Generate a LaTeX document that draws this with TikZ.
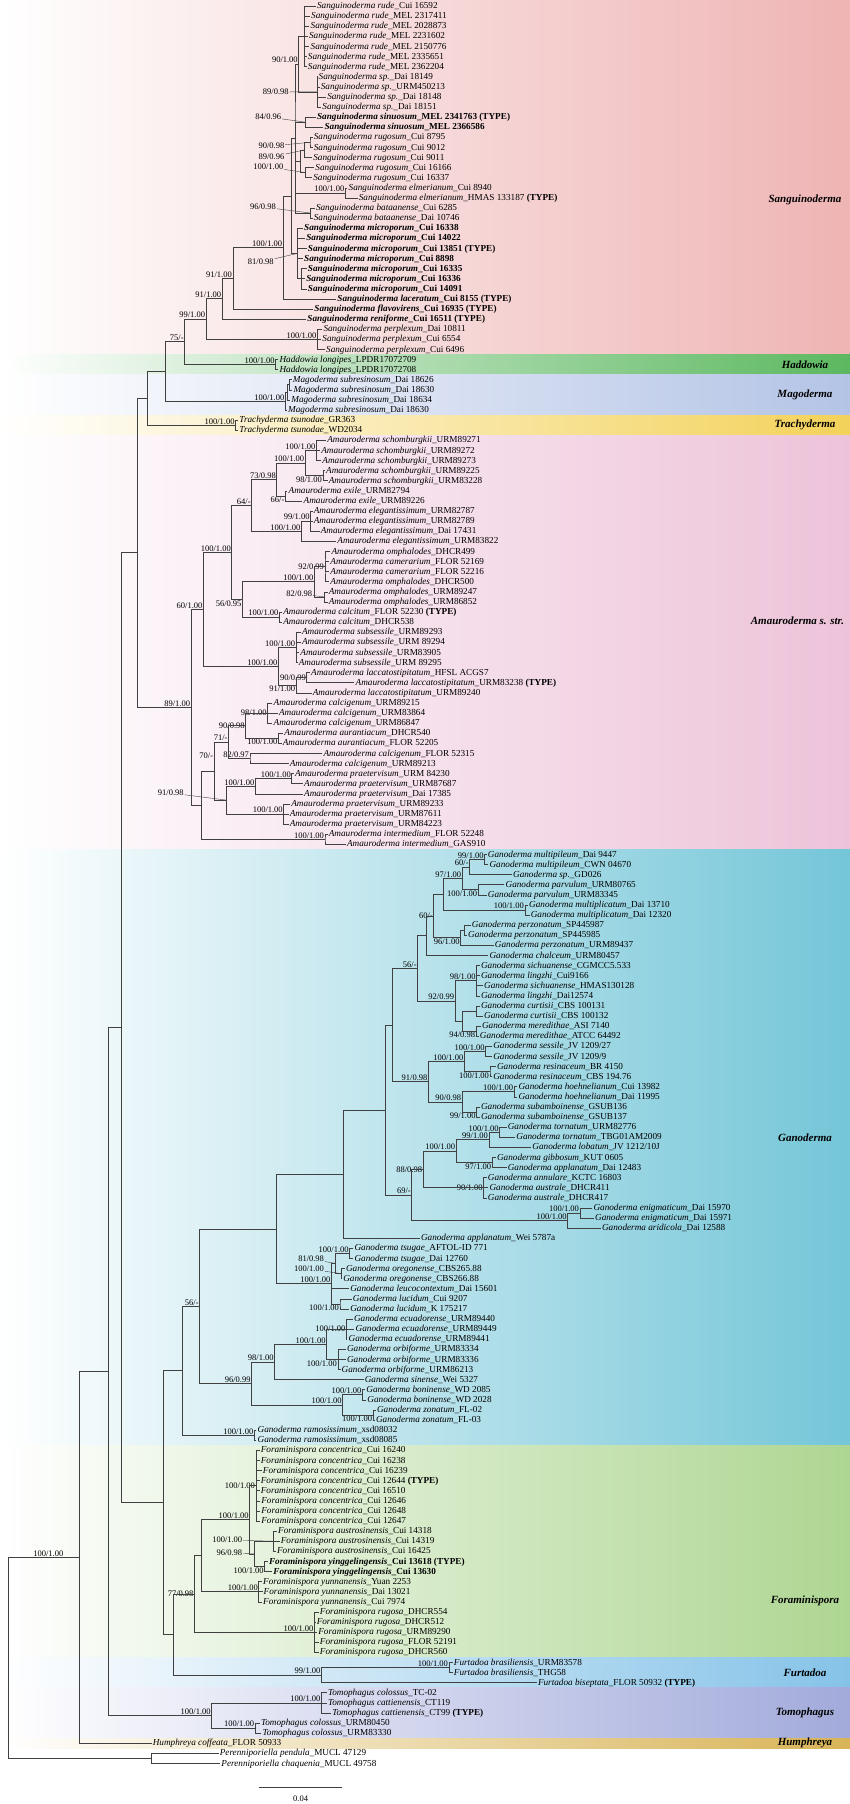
\documentclass[tikz,border=0pt]{standalone}
\usepackage{fontspec}
\setmainfont{Liberation Serif}
\usepackage{tikz}
\usetikzlibrary{calc}
\definecolor{SangRed}{HTML}{EFB4B4}
\definecolor{HaddGreen}{HTML}{5CB860}
\definecolor{MagoBlue}{HTML}{B4C4E6}
\definecolor{TrachYellow}{HTML}{F3D25A}
\definecolor{AmauPink}{HTML}{EDC3D9}
\definecolor{GanoCyan}{HTML}{74C6D8}
\definecolor{ForaGreen}{HTML}{AED692}
\definecolor{FurtBlue}{HTML}{86C3E8}
\definecolor{TomoBlue}{HTML}{A2AADB}
\definecolor{HumpGold}{HTML}{D8B457}

\tikzset{
  branch/.style={draw=black!75,line width=0.6pt},
  lead/.style={draw=black!75,line width=0.4pt},
  taxon/.style={anchor=west,inner sep=1pt,font=\fontsize{9.2}{10}\selectfont,text height=1.5ex,text depth=0.35ex},
  supp/.style={inner sep=0.8pt,font=\fontsize{8.5}{9}\selectfont},
  cladename/.style={font=\fontsize{11}{12}\selectfont\bfseries\itshape}
}

\newcommand{\tx}[2]{\textit{#1}\_#2}
\newcommand{\typ}{\textbf{(TYPE)}}
\newcommand{\taxon}[3]{\node[taxon] (L#1) at (#2,{6+10.1*(#1-1)}) {#3};}
% internal node: [label anchor]{name}{x}{first child}{last child}{support}
\newcommand{\clade}[6][south east]{%
  \coordinate (tmp) at ($(#4)!0.5!(#5)$);
  \path let \p1=(tmp) in (#3,\y1) coordinate (#2);
  \draw[branch] (#4) -| (#2) |- (#5);
  \node[supp,anchor=#1] at (#2) {#6};}
\newcommand{\twig}[2]{\draw[branch] (#1) |- (#2);}

\begin{document}
\begin{tikzpicture}[x=1.0714pt,y=-1pt]
\useasboundingbox (6.667,0) rectangle (800,1804);

% clade bands
\shade[left color=white,right color=SangRed] (6.667,0) rectangle (800,354.5);
\shade[left color=white,right color=HaddGreen] (6.667,354.5) rectangle (800,374.7);
\shade[left color=white,right color=MagoBlue] (6.667,374.7) rectangle (800,415);
\shade[left color=white,right color=TrachYellow] (6.667,415) rectangle (800,435.2);
\shade[left color=white,right color=AmauPink] (6.667,435.2) rectangle (800,849.4);
\shade[left color=white,right color=GanoCyan] (6.667,849.4) rectangle (800,1445.3);
\shade[left color=white,right color=ForaGreen] (6.667,1445.3) rectangle (800,1657.4);
\shade[left color=white,right color=FurtBlue] (6.667,1657.4) rectangle (800,1687.7);
\shade[left color=white,right color=TomoBlue] (6.667,1687.7) rectangle (800,1738.2);
\shade[left color=white,right color=HumpGold] (6.667,1738.2) rectangle (800,1748.3);

\node[cladename] (nSang) at (758,200) {Sanguinoderma};
\node[cladename] (nHadd) at (758,364.6) {Haddowia};
\node[cladename] (nMago) at (758,394.9) {Magoderma};
\node[cladename] (nTrac) at (758,425.1) {Trachyderma};
\node[cladename] (nAmau) at (751,621) {Amauroderma s. str.};
\node[cladename] (nGano) at (758,1138) {Ganoderma};
\node[cladename] (nFora) at (758,1601) {Foraminispora};
\node[cladename] (nFurt) at (758,1672.5) {Furtadoa};
\node[cladename] (nTomo) at (758,1713) {Tomophagus};
\node[cladename] (nHump) at (758,1743.2) {Humphreya};

% taxa
\taxon{1}{301.5}{\tx{Sanguinoderma rude}{Cui 16592}}
\taxon{2}{296}{\tx{Sanguinoderma rude}{MEL 2317411}}
\taxon{3}{295.5}{\tx{Sanguinoderma rude}{MEL 2028873}}
\taxon{4}{294}{\tx{Sanguinoderma rude}{MEL 2231602}}
\taxon{5}{295.5}{\tx{Sanguinoderma rude}{MEL 2150776}}
\taxon{6}{293}{\tx{Sanguinoderma rude}{MEL 2335651}}
\taxon{7}{293}{\tx{Sanguinoderma rude}{MEL 2362204}}
\taxon{8}{303}{\tx{Sanguinoderma sp.}{Dai 18149}}
\taxon{9}{305}{\tx{Sanguinoderma sp.}{URM450213}}
\taxon{10}{311}{\tx{Sanguinoderma sp.}{Dai 18148}}
\taxon{11}{306.5}{\tx{Sanguinoderma sp.}{Dai 18151}}
\taxon{12}{301.5}{\bfseries\tx{Sanguinoderma sinuosum}{MEL 2341763 (TYPE)}}
\taxon{13}{308.5}{\bfseries\tx{Sanguinoderma sinuosum}{MEL 2366586}}
\taxon{14}{298.5}{\tx{Sanguinoderma rugosum}{Cui 8795}}
\taxon{15}{298.5}{\tx{Sanguinoderma rugosum}{Cui 9012}}
\taxon{16}{298}{\tx{Sanguinoderma rugosum}{Cui 9011}}
\taxon{17}{300}{\tx{Sanguinoderma rugosum}{Cui 16166}}
\taxon{18}{298}{\tx{Sanguinoderma rugosum}{Cui 16337}}
\taxon{19}{331}{\tx{Sanguinoderma elmerianum}{Cui 8940}}
\taxon{20}{340.5}{\tx{Sanguinoderma elmerianum}{HMAS 133187 \typ}}
\taxon{21}{300.5}{\tx{Sanguinoderma bataanense}{Cui 6285}}
\taxon{22}{298.5}{\tx{Sanguinoderma bataanense}{Dai 10746}}
\taxon{23}{289.5}{\bfseries\tx{Sanguinoderma microporum}{Cui 16338}}
\taxon{24}{291.5}{\bfseries\tx{Sanguinoderma microporum}{Cui 14022}}
\taxon{25}{293}{\bfseries\tx{Sanguinoderma microporum}{Cui 13851 (TYPE)}}
\taxon{26}{289.5}{\bfseries\tx{Sanguinoderma microporum}{Cui 8898}}
\taxon{27}{293}{\bfseries\tx{Sanguinoderma microporum}{Cui 16335}}
\taxon{28}{291.5}{\bfseries\tx{Sanguinoderma microporum}{Cui 16336}}
\taxon{29}{293}{\bfseries\tx{Sanguinoderma microporum}{Cui 14091}}
\taxon{30}{320.5}{\bfseries\tx{Sanguinoderma laceratum}{Cui 8155 (TYPE)}}
\taxon{31}{299}{\bfseries\tx{Sanguinoderma flavovirens}{Cui 16935 (TYPE)}}
\taxon{32}{292.5}{\bfseries\tx{Sanguinoderma reniforme}{Cui 16511 (TYPE)}}
\taxon{33}{307.5}{\tx{Sanguinoderma perplexum}{Dai 10811}}
\taxon{34}{306.5}{\tx{Sanguinoderma perplexum}{Cui 6554}}
\taxon{35}{310}{\tx{Sanguinoderma perplexum}{Cui 6496}}
\taxon{36}{266.5}{\tx{Haddowia longipes}{LPDR17072709}}
\taxon{37}{266.5}{\tx{Haddowia longipes}{LPDR17072708}}
\taxon{38}{279}{\tx{Magoderma subresinosum}{Dai 18626}}
\taxon{39}{279.5}{\tx{Magoderma subresinosum}{Dai 18630}}
\taxon{40}{277.5}{\tx{Magoderma subresinosum}{Dai 18634}}
\taxon{41}{274.5}{\tx{Magoderma subresinosum}{Dai 18630}}
\taxon{42}{229}{\tx{Trachyderma tsunodae}{GR363}}
\taxon{43}{229}{\tx{Trachyderma tsunodae}{WD2034}}
\taxon{44}{311}{\tx{Amauroderma schomburgkii}{URM89271}}
\taxon{45}{305.5}{\tx{Amauroderma schomburgkii}{URM89272}}
\taxon{46}{306.5}{\tx{Amauroderma schomburgkii}{URM89273}}
\taxon{47}{310}{\tx{Amauroderma schomburgkii}{URM89225}}
\taxon{48}{312.5}{\tx{Amauroderma schomburgkii}{URM83228}}
\taxon{49}{275}{\tx{Amauroderma exile}{URM82794}}
\taxon{50}{289}{\tx{Amauroderma exile}{URM89226}}
\taxon{51}{298.5}{\tx{Amauroderma elegantissimum}{URM82787}}
\taxon{52}{298.5}{\tx{Amauroderma elegantissimum}{URM82789}}
\taxon{53}{305}{\tx{Amauroderma elegantissimum}{Dai 17431}}
\taxon{54}{320.5}{\tx{Amauroderma elegantissimum}{URM83822}}
\taxon{55}{315}{\tx{Amauroderma omphalodes}{DHCR499}}
\taxon{56}{314}{\tx{Amauroderma camerarium}{FLOR 52169}}
\taxon{57}{314}{\tx{Amauroderma camerarium}{FLOR 52216}}
\taxon{58}{314}{\tx{Amauroderma omphalodes}{DHCR500}}
\taxon{59}{312.5}{\tx{Amauroderma omphalodes}{URM89247}}
\taxon{60}{312.5}{\tx{Amauroderma omphalodes}{URM86852}}
\taxon{61}{270}{\tx{Amauroderma calcitum}{FLOR 52230 \typ}}
\taxon{62}{270}{\tx{Amauroderma calcitum}{DHCR538}}
\taxon{63}{287.5}{\tx{Amauroderma subsessile}{URM89293}}
\taxon{64}{287.5}{\tx{Amauroderma subsessile}{URM 89294}}
\taxon{65}{286}{\tx{Amauroderma subsessile}{URM83905}}
\taxon{66}{284.5}{\tx{Amauroderma subsessile}{URM 89295}}
\taxon{67}{296}{\tx{Amauroderma laccatostipitatum}{HFSL ACGS7}}
\taxon{68}{337.5}{\tx{Amauroderma laccatostipitatum}{URM83238 \typ}}
\taxon{69}{297.5}{\tx{Amauroderma laccatostipitatum}{URM89240}}
\taxon{70}{261}{\tx{Amauroderma calcigenum}{URM89215}}
\taxon{71}{266}{\tx{Amauroderma calcigenum}{URM83864}}
\taxon{72}{261}{\tx{Amauroderma calcigenum}{URM86847}}
\taxon{73}{271}{\tx{Amauroderma aurantiacum}{DHCR540}}
\taxon{74}{269.5}{\tx{Amauroderma aurantiacum}{FLOR 52205}}
\taxon{75}{307.5}{\tx{Amauroderma calcigenum}{FLOR 52315}}
\taxon{76}{276}{\tx{Amauroderma calcigenum}{URM89213}}
\taxon{77}{281}{\tx{Amauroderma praetervisum}{URM 84230}}
\taxon{78}{289.5}{\tx{Amauroderma praetervisum}{URM87687}}
\taxon{79}{289.5}{\tx{Amauroderma praetervisum}{Dai 17385}}
\taxon{80}{277.5}{\tx{Amauroderma praetervisum}{URM89233}}
\taxon{81}{276}{\tx{Amauroderma praetervisum}{URM87611}}
\taxon{82}{276}{\tx{Amauroderma praetervisum}{URM84223}}
\taxon{83}{312.5}{\tx{Amauroderma intermedium}{FLOR 52248}}
\taxon{84}{329.5}{\tx{Amauroderma intermedium}{GAS910}}
\taxon{85}{461}{\tx{Ganoderma multipileum}{Dai 9447}}
\taxon{86}{462.5}{\tx{Ganoderma multipileum}{CWN 04670}}
\taxon{87}{484.5}{\tx{Ganoderma sp.}{GD026}}
\taxon{88}{477.5}{\tx{Ganoderma parvulum}{URM80765}}
\taxon{89}{461}{\tx{Ganoderma parvulum}{URM83345}}
\taxon{90}{499.5}{\tx{Ganoderma multiplicatum}{Dai 13710}}
\taxon{91}{501}{\tx{Ganoderma multiplicatum}{Dai 12320}}
\taxon{92}{446}{\tx{Ganoderma perzonatum}{SP445987}}
\taxon{93}{442.5}{\tx{Ganoderma perzonatum}{SP445985}}
\taxon{94}{467.5}{\tx{Ganoderma perzonatum}{URM89437}}
\taxon{95}{462.5}{\tx{Ganoderma chalceum}{URM80457}}
\taxon{96}{454.5}{\tx{Ganoderma sichuanense}{CGMCC5.533}}
\taxon{97}{454.5}{\tx{Ganoderma lingzhi}{Cui9166}}
\taxon{98}{457.5}{\tx{Ganoderma sichuanense}{HMAS130128}}
\taxon{99}{454.5}{\tx{Ganoderma lingzhi}{Dai12574}}
\taxon{100}{454.5}{\tx{Ganoderma curtisii}{CBS 100131}}
\taxon{101}{457.5}{\tx{Ganoderma curtisii}{CBS 100132}}
\taxon{102}{455.5}{\tx{Ganoderma meredithae}{ASI 7140}}
\taxon{103}{453.5}{\tx{Ganoderma meredithae}{ATCC 64492}}
\taxon{104}{466}{\tx{Ganoderma sessile}{JV 1209/27}}
\taxon{105}{466}{\tx{Ganoderma sessile}{JV 1209/9}}
\taxon{106}{469.5}{\tx{Ganoderma resinaceum}{BR 4150}}
\taxon{107}{466}{\tx{Ganoderma resinaceum}{CBS 194.76}}
\taxon{108}{489.5}{\tx{Ganoderma hoehnelianum}{Cui 13982}}
\taxon{109}{489.5}{\tx{Ganoderma hoehnelianum}{Dai 11995}}
\taxon{110}{454.5}{\tx{Ganoderma subamboinense}{GSUB136}}
\taxon{111}{454.5}{\tx{Ganoderma subamboinense}{GSUB137}}
\taxon{112}{479.5}{\tx{Ganoderma tornatum}{URM82776}}
\taxon{113}{487.5}{\tx{Ganoderma tornatum}{TBG01AM2009}}
\taxon{114}{502.5}{\tx{Ganoderma lobatum}{JV 1212/10J}}
\taxon{115}{469.5}{\tx{Ganoderma gibbosum}{KUT 0605}}
\taxon{116}{479.5}{\tx{Ganoderma applanatum}{Dai 12483}}
\taxon{117}{461}{\tx{Ganoderma annulare}{KCTC 16803}}
\taxon{118}{462.5}{\tx{Ganoderma australe}{DHCR411}}
\taxon{119}{461}{\tx{Ganoderma australe}{DHCR417}}
\taxon{120}{559.5}{\tx{Ganoderma enigmaticum}{Dai 15970}}
\taxon{121}{561}{\tx{Ganoderma enigmaticum}{Dai 15971}}
\taxon{122}{567.5}{\tx{Ganoderma aridicola}{Dai 12588}}
\taxon{123}{398.5}{\tx{Ganoderma applanatum}{Wei 5787a}}
\taxon{124}{336.5}{\tx{Ganoderma tsugae}{AFTOL-ID 771}}
\taxon{125}{336.5}{\tx{Ganoderma tsugae}{Dai 12760}}
\taxon{126}{328.5}{\tx{Ganoderma oregonense}{CBS265.88}}
\taxon{127}{326}{\tx{Ganoderma oregonense}{CBS266.88}}
\taxon{128}{332.5}{\tx{Ganoderma leucocontextum}{Dai 15601}}
\taxon{129}{335}{\tx{Ganoderma lucidum}{Cui 9207}}
\taxon{130}{332.5}{\tx{Ganoderma lucidum}{K 175217}}
\taxon{131}{336}{\tx{Ganoderma ecuadorense}{URM89440}}
\taxon{132}{337.5}{\tx{Ganoderma ecuadorense}{URM89449}}
\taxon{133}{331}{\tx{Ganoderma ecuadorense}{URM89441}}
\taxon{134}{329.5}{\tx{Ganoderma orbiforme}{URM83334}}
\taxon{135}{329.5}{\tx{Ganoderma orbiforme}{URM83336}}
\taxon{136}{324.5}{\tx{Ganoderma orbiforme}{URM86213}}
\taxon{137}{346}{\tx{Ganoderma sinense}{Wei 5327}}
\taxon{138}{347.5}{\tx{Ganoderma boninense}{WD 2085}}
\taxon{139}{348.5}{\tx{Ganoderma boninense}{WD 2028}}
\taxon{140}{357.5}{\tx{Ganoderma zonatum}{FL-02}}
\taxon{141}{356.5}{\tx{Ganoderma zonatum}{FL-03}}
\taxon{142}{246}{\tx{Ganoderma ramosissimum}{xsd08032}}
\taxon{143}{246}{\tx{Ganoderma ramosissimum}{xsd08085}}
\taxon{144}{249}{\tx{Foraminispora concentrica}{Cui 16240}}
\taxon{145}{249}{\tx{Foraminispora concentrica}{Cui 16238}}
\taxon{146}{251}{\tx{Foraminispora concentrica}{Cui 16239}}
\taxon{147}{249}{\tx{Foraminispora concentrica}{Cui 12644 \typ}}
\taxon{148}{249}{\tx{Foraminispora concentrica}{Cui 16510}}
\taxon{149}{249.5}{\tx{Foraminispora concentrica}{Cui 12646}}
\taxon{150}{249.5}{\tx{Foraminispora concentrica}{Cui 12648}}
\taxon{151}{249.5}{\tx{Foraminispora concentrica}{Cui 12647}}
\taxon{152}{265.2}{\tx{Foraminispora austrosinensis}{Cui 14318}}
\taxon{153}{267.7}{\tx{Foraminispora austrosinensis}{Cui 14319}}
\taxon{154}{264.2}{\tx{Foraminispora austrosinensis}{Cui 16425}}
\taxon{155}{256.7}{\bfseries\tx{Foraminispora yinggelingensis}{Cui 13618 (TYPE)}}
\taxon{156}{260.7}{\bfseries\tx{Foraminispora yinggelingensis}{Cui 13630}}
\taxon{157}{251.2}{\tx{Foraminispora yunnanensis}{Yuan 2253}}
\taxon{158}{251.7}{\tx{Foraminispora yunnanensis}{Dai 13021}}
\taxon{159}{251.2}{\tx{Foraminispora yunnanensis}{Cui 7974}}
\taxon{160}{304.2}{\tx{Foraminispora rugosa}{DHCR554}}
\taxon{161}{301.2}{\tx{Foraminispora rugosa}{DHCR512}}
\taxon{162}{302.7}{\tx{Foraminispora rugosa}{URM89290}}
\taxon{163}{304.2}{\tx{Foraminispora rugosa}{FLOR 52191}}
\taxon{164}{304.2}{\tx{Foraminispora rugosa}{DHCR560}}
\taxon{165}{429.2}{\tx{Furtadoa brasiliensis}{URM83578}}
\taxon{166}{429.2}{\tx{Furtadoa brasiliensis}{THG58}}
\taxon{167}{507.7}{\tx{Furtadoa biseptata}{FLOR 50932 \typ}}
\taxon{168}{311.7}{\tx{Tomophagus colossus}{TC-02}}
\taxon{169}{311.7}{\tx{Tomophagus cattienensis}{CT119}}
\taxon{170}{315.7}{\tx{Tomophagus cattienensis}{CT99 \typ}}
\taxon{171}{249.2}{\tx{Tomophagus colossus}{URM80450}}
\taxon{172}{250.7}{\tx{Tomophagus colossus}{URM83330}}
\taxon{173}{148.2}{\tx{Humphreya coffeata}{FLOR 50933}}
\taxon{174}{210.7}{\tx{Perenniporiella pendula}{MUCL 47129}}
\taxon{175}{212.2}{\tx{Perenniporiella chaquenia}{MUCL 49758}}

% Sanguinoderma
\clade{rude}{291}{L1}{L7}{}
\twig{rude}{L2}\twig{rude}{L3}\twig{rude}{L4}\twig{rude}{L5}\twig{rude}{L6}
\clade{spp}{302.5}{L8}{L11}{}
\twig{spp}{L9}\twig{spp}{L10}
\clade{N1}{285.5}{rude}{spp}{90/1.00}
\clade{sinu}{291.5}{L12}{L13}{}
\clade{rug1}{296}{L14}{L15}{}
\clade{rug2}{291}{rug1}{L16}{}
\clade{rug3}{292}{L17}{L18}{}
\clade{rug}{287}{rug2}{rug3}{}
\clade{elm}{329}{L19}{L20}{100/1.00}
\clade{bat}{296.5}{L21}{L22}{}
\clade{micA}{288}{L27}{L29}{}
\twig{micA}{L28}
\clade{mic}{284}{L23}{micA}{}
\twig{mic}{L24}\twig{mic}{L25}\twig{mic}{L26}
\clade{sanB}{282}{N1}{bat}{}
\twig{sanB}{sinu}\twig{sanB}{rug}\twig{sanB}{elm}
\clade{sanA}{279}{sanB}{mic}{}
\clade{sanC}{271}{sanA}{L30}{100/1.00}
\clade{sanD}{224}{sanC}{L31}{91/1.00}
\clade{sanE}{214}{sanD}{L32}{91/1.00}
\clade{perp}{303}{L33}{L35}{100/1.00}
\twig{perp}{L34}
\clade{sanF}{199}{sanE}{perp}{99/1.00}
\clade{had}{264}{L36}{L37}{100/1.00}
\clade{sanG}{179}{sanF}{had}{75/-}
\clade{mag1}{276.5}{L38}{L39}{}
\clade{mag2}{275}{mag1}{L40}{}
\clade{mag}{273}{mag2}{L41}{100/1.00}
\clade{sanH}{161}{sanG}{mag}{}
\clade{tra}{226.5}{L42}{L43}{100/1.00}
\clade{sanI}{144}{sanH}{tra}{}
\node[supp,anchor=east] (s1) at (277,92) {89/0.98};
\draw[lead] (s1) -- (spp);
\node[supp,anchor=east] (s2) at (270,117) {84/0.96};
\draw[lead] (s2) -- (sinu);
\node[supp,anchor=east] (s3) at (273,146) {90/0.98};
\draw[lead] (s3) -- (rug1);
\node[supp,anchor=east] (s4) at (273,157) {89/0.96};
\draw[lead] (s4) -- (rug2);
\node[supp,anchor=east] (s5) at (272,167) {100/1.00};
\draw[lead] (s5) -- (rug3);
\node[supp,anchor=east] (s6) at (265,207) {96/0.98};
\draw[lead] (s6) -- (bat);
\node[supp,anchor=east] (s7) at (263,262) {81/0.98};
\draw[lead] (s7) -- (mic);

% Amauroderma s. str.
\clade{schA}{302}{L44}{L46}{100/1.00}
\twig{schA}{L45}
\clade[north east]{schB}{308}{L47}{L48}{98/1.00}
\clade{sch}{291.5}{schA}{schB}{100/1.00}
\clade[north east]{exi}{273}{L49}{L50}{66/-}
\clade{am73}{265}{sch}{exi}{73/0.98}
\clade{eleA}{296.5}{L51}{L53}{99/1.00}
\twig{eleA}{L52}
\clade{ele}{288}{eleA}{L54}{100/1.00}
\clade{am64}{241.5}{am73}{ele}{64/-}
\clade[east]{omA}{310}{L55}{L58}{92/0.99}
\twig{omA}{L56}\twig{omA}{L57}
\clade{omB}{309}{L59}{L60}{}
\clade{om}{300}{omA}{omB}{100/1.00}
\clade{cal}{267.5}{L61}{L62}{100/1.00}
\clade[north east]{am56}{233}{om}{cal}{56/0.95}
\clade{am100}{223}{am64}{am56}{100/1.00}
\clade{sub}{283}{L63}{L66}{100/1.00}
\twig{sub}{L64}\twig{sub}{L65}
\clade[east]{lacA}{293}{L67}{L68}{90/0.99}
\clade[north east]{lac}{283}{lacA}{L69}{91/1.00}
\clade{amsl}{266.5}{sub}{lac}{100/1.00}
\clade{am60}{196.5}{am100}{amsl}{60/1.00}
\clade[east]{cgA}{256.5}{L70}{L72}{98/1.00}
\twig{cgA}{L71}
\clade[north east]{aur}{266.5}{L73}{L74}{100/1.00}
\clade[east]{cgB}{236}{cgA}{aur}{90/0.98}
\clade{cgC}{240}{L75}{L76}{82/0.97}
\clade{am71}{220}{cgB}{cgC}{71/-}
\clade{prA}{279}{L77}{L78}{100/1.00}
\clade{prB}{245}{prA}{L79}{100/1.00}
\clade{prC}{271.5}{L80}{L82}{100/1.00}
\twig{prC}{L81}
\clade{pra}{218}{prB}{prC}{}
\clade[south east,yshift=12pt]{am70}{206.5}{am71}{pra}{70/-}
\clade{int}{310}{L83}{L84}{100/1.00}
\clade{am91}{195}{am70}{int}{}
\clade{am89}{185}{am60}{am91}{89/1.00}
\clade{amz}{135}{sanI}{am89}{}
\node[supp,anchor=east] (s8) at (299,594) {82/0.98};
\draw[lead] (s8) -- (omB);
\node[supp,anchor=east] (s9) at (179,793) {91/0.98};
\draw[lead] (s9) -- (pra);

% Ganoderma
\clade{mpA}{459}{L85}{L86}{99/1.00}
\clade{mpB}{445}{mpA}{L87}{60/-}
\clade[north east]{par}{453}{L88}{L89}{100/1.00}
\clade{g97}{438}{mpB}{par}{97/1.00}
\clade{mul}{496.5}{L90}{L91}{100/1.00}
\clade{gA}{420}{g97}{mul}{}
\clade{perA}{440}{L92}{L93}{}
\clade[north east]{perz}{436.5}{perA}{L94}{96/1.00}
\clade[east]{g60}{411.5}{gA}{perz}{60/-}
\clade{gB}{405}{g60}{L95}{}
\clade{sic}{451.5}{L96}{L99}{98/1.00}
\twig{sic}{L97}\twig{sic}{L98}
\clade{cur}{451.5}{L100}{L101}{}
\clade[north east]{mer}{451}{L102}{L103}{94/0.98}
\clade{cm}{438}{cur}{mer}{}
\clade{g92}{431.5}{sic}{cm}{92/0.99}
\clade{g56b}{396.5}{gB}{g92}{56/-}
\clade{ses}{460}{L104}{L105}{100/1.00}
\clade[north east]{res}{464}{L106}{L107}{100/1.00}
\clade{sr}{440}{ses}{res}{100/1.00}
\clade{hoe}{486.5}{L108}{L109}{100/1.00}
\clade[north east]{sua}{451.5}{L110}{L111}{99/1.00}
\clade{g90}{438}{hoe}{sua}{90/0.98}
\clade{g91}{406.5}{sr}{g90}{91/0.98}
\clade{gC}{373}{g56b}{g91}{}
\clade{tor}{473}{L112}{L113}{100/1.00}
\clade{tl}{463}{tor}{L114}{99/1.00}
\clade[north east]{gib}{466}{L115}{L116}{97/1.00}
\clade{g100}{432.5}{tl}{gib}{100/1.00}
\clade[east]{aus}{458}{L117}{L119}{90/1.00}
\twig{aus}{L118}
\clade[east]{g88}{401.5}{g100}{aus}{88/0.98}
\clade{eni}{548}{L120}{L121}{100/1.00}
\clade{enB}{536.5}{eni}{L122}{100/1.00}
\clade{g69}{391}{g88}{enB}{69/-}
\clade{gD}{366.5}{gC}{g69}{}
\clade{gE}{327.5}{gD}{L123}{}
\clade{tsu}{333}{L124}{L125}{100/1.00}
\clade{ore}{325}{L126}{L127}{}
\clade{g81}{320}{tsu}{ore}{}
\clade[north east]{luc}{324}{L129}{L130}{100/1.00}
\clade{glu}{316}{g81}{luc}{100/1.00}
\twig{glu}{L128}
\clade{gF}{265}{gE}{glu}{}
\clade[east]{ecu}{330}{L131}{L133}{100/1.00}
\twig{ecu}{L132}
\clade[north east]{orb}{322}{L134}{L136}{100/1.00}
\twig{orb}{L135}
\clade{eo}{311.5}{ecu}{orb}{100/1.00}
\clade{g98}{263}{eo}{L137}{98/1.00}
\clade{bon}{345}{L138}{L139}{100/1.00}
\clade[north east]{zon}{355}{L140}{L141}{100/1.00}
\clade{bz}{326.5}{bon}{zon}{100/1.00}
\clade{g96}{241.5}{g98}{bz}{96/0.99}
\clade{g56}{193}{gF}{g96}{56/-}
\clade{ram}{244}{L142}{L143}{100/1.00}
\clade{gan}{176.5}{g56}{ram}{}
\node[supp,anchor=east] (s10) at (310,1259) {81/0.98};
\draw[lead] (s10) -- (g81);
\node[supp,anchor=east] (s11) at (310,1269) {100/1.00};
\draw[lead] (s11) -- (ore);

% Foraminispora, Furtadoa, Tomophagus, outgroup
\clade[east]{con}{245.5}{L144}{L151}{100/1.00}
\twig{con}{L145}\twig{con}{L146}\twig{con}{L147}\twig{con}{L148}\twig{con}{L149}\twig{con}{L150}
\clade{aut}{261.7}{L152}{L154}{}
\twig{aut}{L153}
\clade[north east]{yin}{253.7}{L155}{L156}{100/1.00}
\clade{fay}{243.7}{aut}{yin}{}
\clade{fb}{239.7}{con}{fay}{100/1.00}
\clade{yun}{248.2}{L157}{L159}{100/1.00}
\twig{yun}{L158}
\clade{fa}{194.7}{fb}{yun}{}
\clade{rga}{300.2}{L160}{L164}{100/1.00}
\twig{rga}{L161}\twig{rga}{L162}\twig{rga}{L163}
\clade[east]{f77}{188.2}{fa}{rga}{77/0.98}
\clade{bra}{425.7}{L165}{L166}{100/1.00}
\clade{fur}{306.7}{bra}{L167}{99/1.00}
\clade{fu}{168.2}{f77}{fur}{}
\clade{fv}{159.4}{gan}{fu}{}
\clade{fuU}{120}{amz}{fv}{}
\clade{toA}{306.7}{L168}{L170}{100/1.00}
\twig{toA}{L169}
\clade{toB}{244.7}{L171}{L172}{100/1.00}
\clade{tom}{204.2}{toA}{toB}{100/1.00}
\clade{nQ}{108.2}{fuU}{tom}{}
\clade[south east,xshift=-15pt]{nP}{80.7}{nQ}{L173}{100/1.00}
\clade{pnl}{148.2}{L174}{L175}{}
\clade{root}{14.2}{nP}{pnl}{}
\node[supp,anchor=east] (s12) at (233.7,1540) {100/1.00};
\draw[lead] (s12) -- (aut);
\node[supp,anchor=east] (s13) at (233.7,1553) {96/0.98};
\draw[lead] (s13) -- (fay);

% scale bar
\coordinate (sb1) at (248.2,1787);
\coordinate (sb2) at (326.2,1787);
\draw[branch] (sb1) -- (sb2);
\node[supp] (sbl) at (287.2,1799) {0.04};
\end{tikzpicture}
\end{document}
